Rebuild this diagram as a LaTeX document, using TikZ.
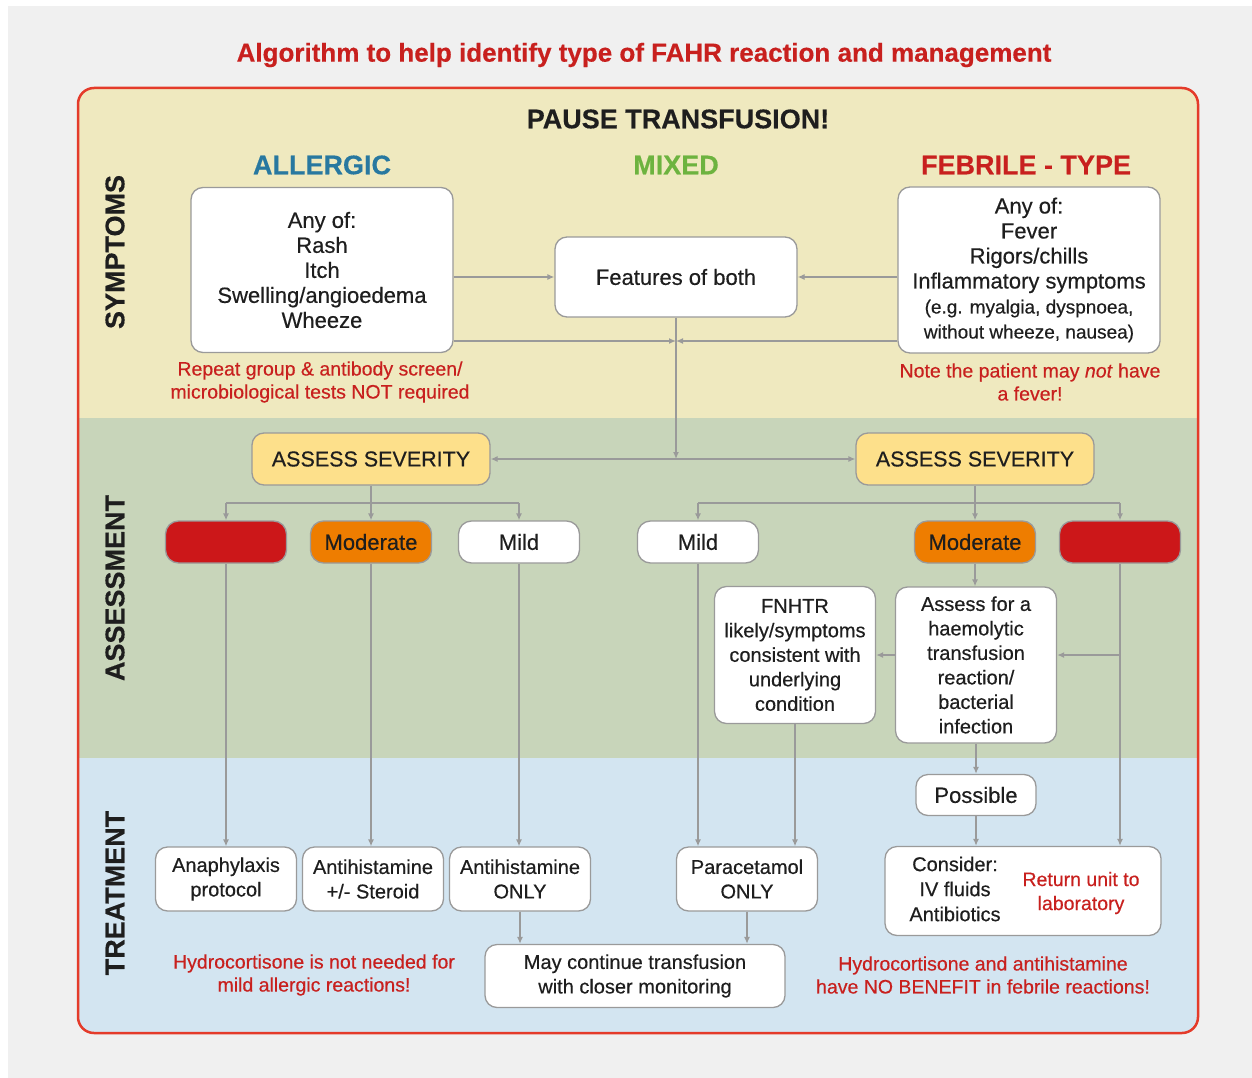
\documentclass[tikz,border=0pt]{standalone}
\usepackage{fontspec}
\setmainfont{Liberation Sans}[FakeBold=0.4]
\newfontfamily\medfont{Liberation Sans}[FakeBold=0.4]
\usetikzlibrary{arrows.meta}
\newcommand\myfs[2]{\fontsize{#1}{#2}\selectfont}
\definecolor{bggray}{HTML}{F0F0F0}
\definecolor{symyellow}{HTML}{EFE9BF}
\definecolor{assgreen}{HTML}{C8D5BA}
\definecolor{treatblue}{HTML}{D3E5F1}
\definecolor{framered}{HTML}{E43B2A}
\definecolor{linegray}{HTML}{9A9A9A}
\definecolor{notered}{HTML}{C8201E}
\definecolor{allergblue}{HTML}{2878A0}
\definecolor{mixgreen}{HTML}{6DB33F}
\definecolor{sevred}{HTML}{CC1719}
\definecolor{modorange}{HTML}{EE7D00}
\definecolor{assessfill}{HTML}{FDE08B}
\definecolor{textblack}{HTML}{1E1E1E}
\tikzset{
  box/.style={draw=linegray, line width=1.3pt, rounded corners=12pt, fill=white, align=center, inner sep=0pt, text=textblack, font={\medfont\myfs{20}{24.5}}},
  bigbox/.style={box, font={\medfont\myfs{22}{25}}},
  sevbox/.style={box, minimum width=121pt, minimum height=42pt, rounded corners=13pt, font={\medfont\myfs{22}{25}}},
  assessbox/.style={box, fill=assessfill, minimum width=238pt, minimum height=52pt, font={\medfont\myfs{21.5}{25}}},
  treatbox/.style={box, minimum width=141pt, minimum height=64pt},
  arr/.style={draw=linegray, line width=1.3pt, -{Latex[length=7pt,width=6pt]}},
  ln/.style={draw=linegray, line width=1.3pt},
  note/.style={text=notered, align=center, inner sep=0pt, font={\medfont\myfs{19.5}{23}}},
  sidelabel/.style={rotate=90, text=textblack, inner sep=0pt, font={\myfs{27}{27}\bfseries}},
  head/.style={inner sep=0pt, font={\myfs{27}{27}\bfseries}}
}
\begin{document}
\begin{tikzpicture}[x=1pt,y=-1pt]
\useasboundingbox (0,0) rectangle (1252,1078);
\fill[white] (0,0) rectangle (1252,1078);
\fill[bggray] (8,6) rectangle (1252,1078);
% bands
\begin{scope}
  \clip[rounded corners=16pt] (78,88) rectangle (1198,1033);
  \fill[symyellow] (78,88) rectangle (1198,418);
  \fill[assgreen] (78,418) rectangle (1198,758);
  \fill[treatblue] (78,758) rectangle (1198,1033);
\end{scope}
\draw[framered, line width=2.5pt, rounded corners=16pt] (78,88) rectangle (1198,1033);

% titles
\node[inner sep=0pt, text=notered, font={\myfs{26}{26}\bfseries}] (title) at (644,55) {Algorithm to help identify type of FAHR reaction and management};
\node[inner sep=0pt, text=textblack, font={\myfs{27}{27}\bfseries}] (pause) at (678,119) {PAUSE TRANSFUSION!};
\node[head, text=allergblue] (hallerg) at (322,165) {ALLERGIC};
\node[head, text=mixgreen] (hmixed) at (676,165) {MIXED};
\node[head, text=notered] (hfeb) at (1026,165) {FEBRILE - TYPE};

\node[sidelabel] (lsym) at (115,252) {SYMPTOMS};
\node[sidelabel] (lass) at (115,588) {ASSESSMENT};
\node[sidelabel] (ltreat) at (115,893) {TREATMENT};

% symptoms
\node[bigbox, minimum width=262pt, minimum height=165pt] (alg) at (322,270) {Any of:\\Rash\\Itch\\Swelling/angioedema\\Wheeze};
\node[bigbox, minimum width=242pt, minimum height=80pt] (feat) at (676,277) {Features of both};
\node[bigbox, minimum width=262pt, minimum height=166pt] (feb) at (1029,270) {Any of:\\Fever\\Rigors/chills\\Inflammatory symptoms\\{\myfs{19}{25}(e.g. myalgia, dyspnoea,}\\{\myfs{19}{25}without wheeze, nausea)}};

\node[note] (n1) at (320,382) {Repeat group \& antibody screen/\\microbiological tests NOT required};
\node[note] (n2) at (1030,382) {Note the patient may \textit{not} have\\a fever!};

\coordinate (mid) at (676,341);
\coordinate (split) at (676,459);
\draw[arr] (alg.east |- feat.west) -- (feat.west);
\draw[arr] (feb.west |- feat.east) -- (feat.east);
\draw[arr] (alg.east |- mid) -- (mid);
\draw[arr] (feb.west |- mid) -- (mid);

% assessment
\node[assessbox] (asL) at (371,459) {ASSESS SEVERITY};
\node[assessbox] (asR) at (975,459) {ASSESS SEVERITY};
\draw[arr] (feat.south) -- (split);
\draw[arr] (split) -- (asL.east);
\draw[arr] (split) -- (asR.west);

\node[sevbox, fill=sevred] (sevL) at (226,542) {};
\node[sevbox, fill=modorange] (modL) at (371,542) {Moderate};
\node[sevbox] (mildL) at (519,542) {Mild};
\node[sevbox] (mildR) at (698,542) {Mild};
\node[sevbox, fill=modorange] (modR) at (975,542) {Moderate};
\node[sevbox, fill=sevred] (sevR) at (1120,542) {};

\coordinate (bl) at (371,503);
\coordinate (br) at (975,503);
\draw[ln] (asL.south) -- (bl);
\draw[ln] (sevL.north |- bl) -- (mildL.north |- bl);
\draw[arr] (sevL.north |- bl) -- (sevL.north);
\draw[arr] (bl) -- (modL.north);
\draw[arr] (mildL.north |- bl) -- (mildL.north);
\draw[ln] (asR.south) -- (br);
\draw[ln] (mildR.north |- br) -- (sevR.north |- br);
\draw[arr] (mildR.north |- br) -- (mildR.north);
\draw[arr] (br) -- (modR.north);
\draw[arr] (sevR.north |- br) -- (sevR.north);

\node[box, minimum width=161pt, minimum height=137pt] (fnhtr) at (795,655) {FNHTR\\likely/symptoms\\consistent with\\underlying\\condition};
\node[box, minimum width=161pt, minimum height=156pt] (afor) at (976,665) {Assess for a\\haemolytic\\transfusion\\reaction/\\bacterial\\infection};
\coordinate (rbranch) at (1120,655);
\draw[arr] (modR.south) -- (modR.south |- afor.north);
\draw[arr] (afor.west |- fnhtr.east) -- (fnhtr.east);
\draw[arr] (rbranch) -- (afor.east |- rbranch);

\node[box, minimum width=120pt, minimum height=41pt, font={\medfont\myfs{22}{25}}] (poss) at (976,795) {Possible};
\draw[arr] (afor.south) -- (poss.north);

% treatment
\node[treatbox] (anaph) at (226,879) {Anaphylaxis\\protocol};
\node[treatbox] (anthst) at (373,879) {Antihistamine\\+/- Steroid};
\node[treatbox] (antonly) at (520,879) {Antihistamine\\ONLY};
\node[treatbox] (para) at (747,879) {Paracetamol\\ONLY};
\node[box, minimum width=276pt, minimum height=89pt] (cons) at (1023,891) {};
\node[inner sep=0pt, align=center, text=textblack, font={\medfont\myfs{20}{25}}] (constext) at (955,889) {Consider:\\IV fluids\\Antibiotics};
\node[note, font={\medfont\myfs{19.5}{24}}] (ret) at (1081,893) {Return unit to\\laboratory};
\node[box, minimum width=300pt, minimum height=63pt] (may) at (635,976) {May continue transfusion\\with closer monitoring};

\draw[arr] (sevL.south) -- (anaph.north);
\draw[arr] (modL.south) -- (modL.south |- anthst.north);
\draw[arr] (mildL.south) -- (mildL.south |- antonly.north);
\draw[arr] (mildR.south) -- (mildR.south |- para.north);
\draw[arr] (fnhtr.south) -- (fnhtr.south |- para.north);
\draw[arr] (sevR.south) -- (sevR.south |- cons.north);
\draw[arr] (poss.south) -- (poss.south |- cons.north);
\draw[arr] (antonly.south) -- (antonly.south |- may.north);
\draw[arr] (para.south) -- (para.south |- may.north);

\node[note] (n3) at (314,975) {Hydrocortisone is not needed for\\mild allergic reactions!};
\node[note] (n4) at (983,975) {Hydrocortisone and antihistamine\\have NO BENEFIT in febrile reactions!};
\end{tikzpicture}
\end{document}
